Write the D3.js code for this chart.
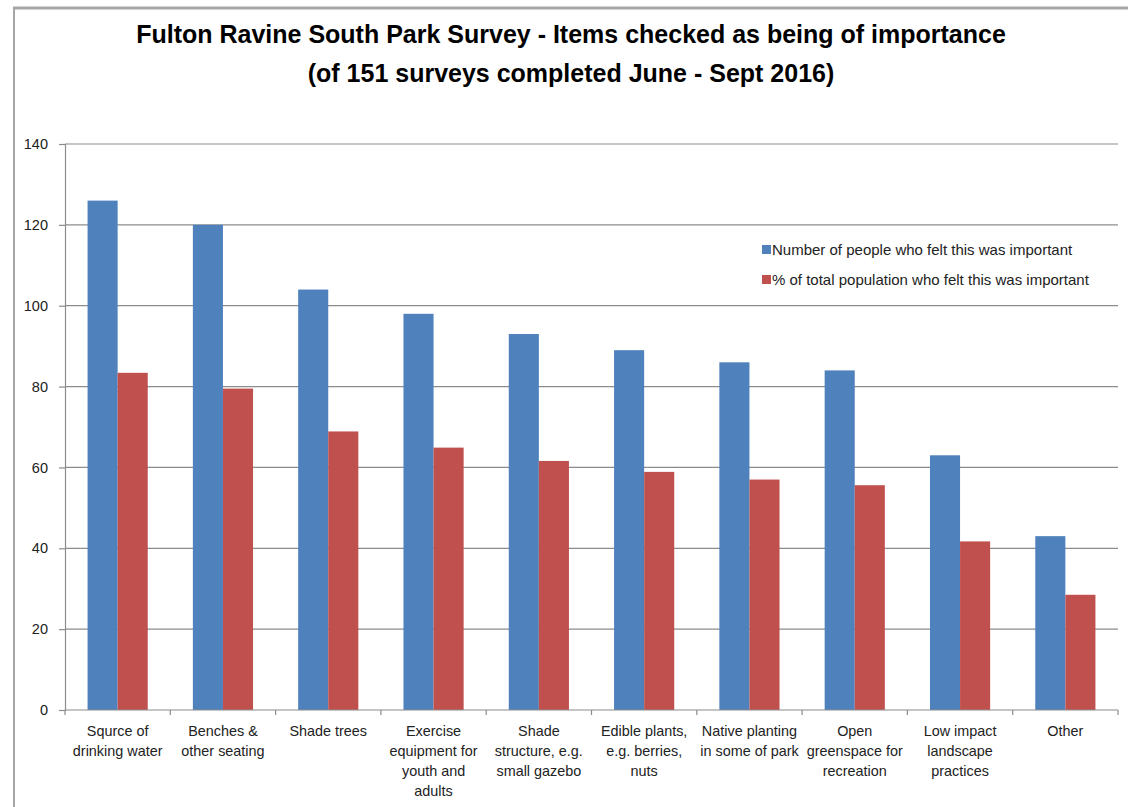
<!DOCTYPE html>
<html lang="en"><head>
<meta charset="UTF-8">
<script src="https://d3js.org/d3.v7.min.js"></script>
<title>Fulton Ravine South Park Survey</title>
<style>
  body { margin: 0; background: #fff; }
  text { font-family: "Liberation Sans Narrow", "Liberation Sans", Arial, sans-serif; }
</style>
</head>
<body>
<svg id="vis" width="1128" height="807"></svg>
<script>
// categories (each label split into its lines)
var categories = [
  ["Squrce of", "drinking water"],
  ["Benches &", "other seating"],
  ["Shade trees"],
  ["Exercise", "equipment for", "youth and", "adults"],
  ["Shade", "structure, e.g.", "small gazebo"],
  ["Edible plants,", "e.g. berries,", "nuts"],
  ["Native planting", "in some of park"],
  ["Open", "greenspace for", "recreation"],
  ["Low impact", "landscape", "practices"],
  ["Other"]
];
var peopleCount = [126, 120, 104, 98, 93, 89, 86, 84, 63, 43];
var percentPop = [83.4, 79.5, 68.9, 64.9, 61.6, 58.9, 57.0, 55.6, 41.7, 28.5];
var seriesNames = ["Number of people who felt this was important",
                   "% of total population who felt this was important"];
var seriesColors = ["#4f81bd", "#c0504d"];
var yTicks = [0, 20, 40, 60, 80, 100, 120, 140];

var svg = d3.select("#vis");

// frame (grey edge top/left)
svg.append("line").attr("x1", 13).attr("x2", 1128).attr("y1", 8).attr("y2", 8)
  .attr("stroke", "#a6a6a6").attr("stroke-width", 3);
svg.append("line").attr("x1", 14).attr("x2", 14).attr("y1", 8).attr("y2", 807)
  .attr("stroke", "#a6a6a6").attr("stroke-width", 2);

// title
svg.append("text").attr("x", 571).attr("y", 43).attr("text-anchor", "middle")
  .attr("font-size", 25).attr("font-weight", "bold").attr("fill", "#000")
  .text("Fulton Ravine South Park Survey - Items checked as being of importance");
svg.append("text").attr("x", 571).attr("y", 82).attr("text-anchor", "middle")
  .attr("font-size", 25).attr("font-weight", "bold").attr("fill", "#000")
  .text("(of 151 surveys completed June - Sept 2016)");

var plotLeft = 65, plotRight = 1118, plotTop = 144, plotBottom = 710;

var x = d3.scaleBand().domain(d3.range(categories.length)).range([plotLeft, plotRight]);
var x1 = d3.scaleBand().domain([0, 1]).range([0, x.bandwidth()]).paddingOuter(0.75).paddingInner(0);
var y = d3.scaleLinear().domain([0, 140]).range([plotBottom, plotTop]);

// gridlines
svg.append("g").selectAll("line").data(yTicks.filter(function(d){ return d > 0; }))
  .join("line")
  .attr("x1", plotLeft).attr("x2", plotRight)
  .attr("y1", function(d){ return y(d); }).attr("y2", function(d){ return y(d); })
  .attr("stroke", "#8c8c8c").attr("stroke-width", 1.2);

// y axis
var yAxis = d3.axisLeft(y).tickValues(yTicks).tickSize(6).tickPadding(11);
var gy = svg.append("g").attr("transform", "translate(" + plotLeft + ",0)").call(yAxis);
gy.select(".domain").attr("stroke", "#8c8c8c").attr("stroke-width", 1.2);
gy.selectAll(".tick line").attr("stroke", "#8c8c8c").attr("stroke-width", 1.2);
gy.selectAll(".tick text").attr("font-size", 14.5).attr("fill", "#222")
  .style("font-family", "'Liberation Sans', Arial, sans-serif");

// bars
var groups = svg.append("g").selectAll("g").data(categories).join("g")
  .attr("transform", function(d, i){ return "translate(" + x(i) + ",0)"; });
groups.each(function(d, i){
  var g = d3.select(this);
  [peopleCount[i], percentPop[i]].forEach(function(v, s){
    g.append("rect")
      .attr("x", x1(s)).attr("width", x1.bandwidth())
      .attr("y", y(v)).attr("height", plotBottom - y(v))
      .attr("fill", seriesColors[s]);
  });
});

// x axis
svg.append("line").attr("x1", plotLeft).attr("x2", plotRight).attr("y1", plotBottom).attr("y2", plotBottom)
  .attr("stroke", "#8c8c8c").attr("stroke-width", 1.2);
svg.append("g").selectAll("line").data(d3.range(categories.length + 1)).join("line")
  .attr("x1", function(i){ return plotLeft + i * x.step(); })
  .attr("x2", function(i){ return plotLeft + i * x.step(); })
  .attr("y1", plotBottom).attr("y2", plotBottom + 5)
  .attr("stroke", "#8c8c8c").attr("stroke-width", 1.2);

// category labels
groups.each(function(lines){
  var t = d3.select(this).append("text")
    .attr("text-anchor", "middle").attr("font-size", 14.4).attr("fill", "#222")
    .style("font-family", "'Liberation Sans Narrow', 'Liberation Sans', sans-serif");
  lines.forEach(function(l, k){
    t.append("tspan").attr("x", x.bandwidth() / 2).attr("y", 736 + k * 20).text(l);
  });
});

// legend
var legend = svg.append("g").selectAll("g").data(seriesNames).join("g")
  .attr("transform", function(d, i){ return "translate(762," + (250 + i * 30) + ")"; });
legend.append("rect").attr("x", 0).attr("y", -5).attr("width", 9).attr("height", 9)
  .attr("fill", function(d, i){ return seriesColors[i]; });
legend.append("text").attr("x", 10).attr("y", 5).attr("font-size", 15).attr("fill", "#222")
  .text(function(d){ return d; });
</script>
</body></html>
